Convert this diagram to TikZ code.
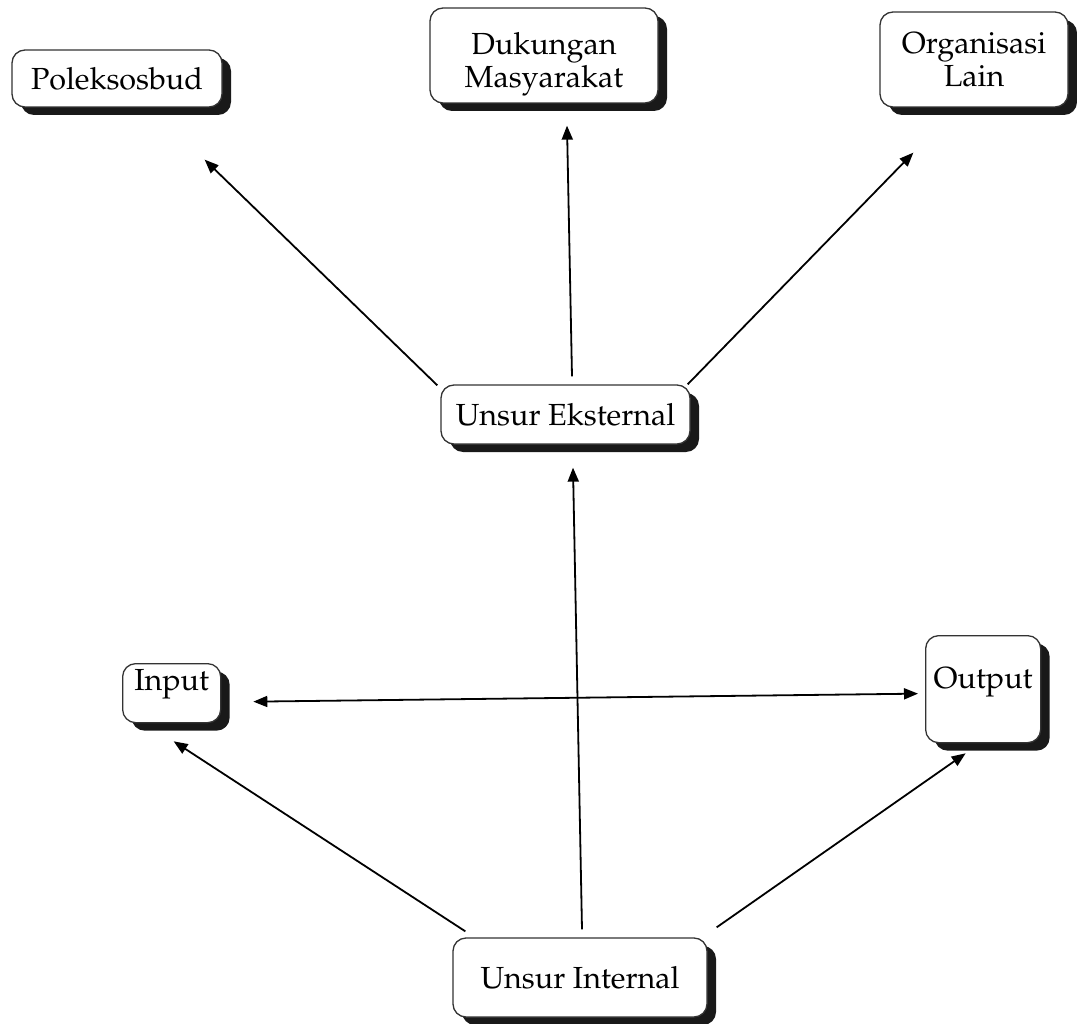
\documentclass[tikz,border=0pt]{standalone}
\usepackage[T1]{fontenc}
\usepackage{mathpazo}
\usetikzlibrary{arrows.meta,shadows,calc}
\begin{document}
\begin{tikzpicture}[x=1pt,y=-1pt,
  >={Triangle[length=14pt,width=11pt]},
  box/.style={draw=black!80, line width=1.3pt, rounded corners=13pt, fill=white,
    inner sep=0pt, align=center,
    font=\fontsize{30.5}{33}\selectfont,
    drop shadow={shadow xshift=9pt, shadow yshift=-8pt, fill=black!90, opacity=1}},
  arr/.style={line width=1.8pt, ->},
  darr/.style={line width=1.8pt, <->},
]
\useasboundingbox (0,0) rectangle (1077,1024);

\node[box, minimum width=210pt, minimum height=57pt] (pol) at (117,78.5) {Poleksosbud};
\node[box, minimum width=228pt, minimum height=95pt] (duk) at (544,55.5) {\rule{0pt}{40pt}Dukungan\\Masyarakat};
\node[box, minimum width=188pt, minimum height=95pt] (org) at (974,59.5) {Organisasi\\Lain};
\node[box, minimum width=249pt, minimum height=59pt] (eks) at (565.5,414.5) {Unsur Eksternal};
\node[box, minimum width=254pt, minimum height=79pt] (int) at (580,977.5) {Unsur Internal};
\node[box, anchor=north west, minimum width=98pt, inner ysep=2pt, text height=25pt, text depth=30pt] (inp) at (122,663) {Input};
\node[box, anchor=north west, minimum width=115pt, inner ysep=2pt, text height=51pt, text depth=52pt] (out) at (925,635) {Output};

\draw[arr] ($(eks.north west)+(-3,1)$) -- ($(pol.south east)+(-18,52)$);
\draw[arr] ($(eks.north)+(6.5,-8)$) -- ($(duk.south)+(23,22)$);
\draw[arr] ($(eks.north east)+(-3,0)$) -- ($(org.south west)+(34,45)$);
\draw[arr] ($(int.north)+(2,-8)$) -- ($(eks.south)+(7.5,23)$);
\draw[darr] ($(inp.east)+(32,8.5)$) -- ($(out.west)+(-7,4.5)$);
\draw[arr] ($(int.north west)+(13,-6)$) -- ($(inp.south)+(2,18)$);
\draw[arr] ($(int.north east)+(9,-10)$) -- ($(out.south)+(-17.5,10)$);
\end{tikzpicture}
\end{document}
